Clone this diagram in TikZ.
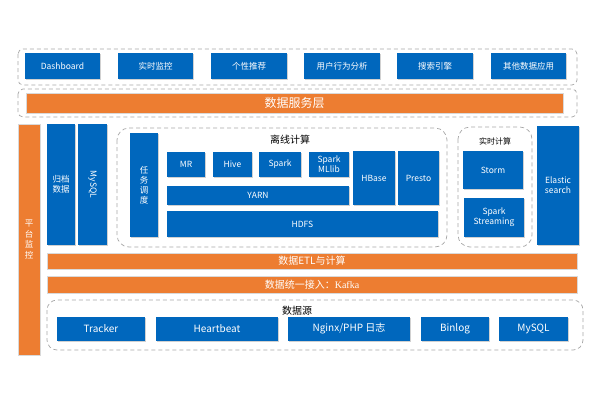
\documentclass[tikz,border=0pt]{standalone}
\usepackage{fontspec}
\setmainfont{Noto Sans CJK SC}
\newfontfamily\kfont{Liberation Serif}
\usetikzlibrary{shadows}
\definecolor{bblue}{HTML}{0067BD}
\definecolor{borange}{HTML}{ED7D31}
\begin{document}
\begin{tikzpicture}[x=1pt, y=-1pt,
    box/.style={fill=bblue, text=white, inner sep=0pt, align=center,
        font=\fontsize{8.5}{10}\selectfont,
        drop shadow={shadow xshift=1pt, shadow yshift=-1pt, fill=black!30, opacity=.6}},
    bar/.style={fill=borange, draw=black!15, line width=.8pt, text=white, inner sep=0pt,
        font=\fontsize{10}{12}\selectfont},
    grp/.style={draw=black!35, dash pattern=on 4pt off 3pt, line width=.7pt, rounded corners=#1},
    grp/.default=5pt,
    lbl/.style={font=\fontsize{10}{12}\selectfont}]
    \useasboundingbox (0,0) rectangle (600,400);

    % application layer
    \draw[grp] (18,49) rectangle (577,85);
    \node[box, minimum width=75pt, minimum height=26pt] (dash) at (62.5,66) {Dashboard};
    \node[box, minimum width=75pt, minimum height=26pt] (rtmon) at (155.5,66) {实时监控};
    \node[box, minimum width=76pt, minimum height=26pt] (recom) at (249,66) {个性推荐};
    \node[box, minimum width=76pt, minimum height=26pt] (behav) at (342,66) {用户行为分析};
    \node[box, minimum width=76pt, minimum height=26pt] (search) at (435,66) {搜索引擎};
    \node[box, minimum width=75pt, minimum height=26pt] (other) at (528.5,66) {其他数据应用};

    % service layer
    \draw[grp] (18,89) rectangle (577,117);
    \node[bar, minimum width=537pt, minimum height=20pt, font=\fontsize{12}{14}\selectfont] (service) at (294.5,103) {数据服务层};

    % left columns
    \node[bar, minimum width=22pt, minimum height=231pt, align=center, font=\fontsize{8.5}{10.5}\selectfont] (platmon) at (29,239.5) {平\\台\\监\\控};
    \node[box, minimum width=28pt, minimum height=121pt] (archive) at (61,184.5) {归档\\数据};
    \node[box, minimum width=29pt, minimum height=121pt] (mysqlv) at (92.5,184.5) {\rotatebox{-90}{MySQL}};

    % offline computing
    \draw[grp=12pt] (117,128) rectangle (447,247);
    \node[lbl] (offline) at (290,140) {离线计算};
    \node[box, minimum width=28pt, minimum height=104pt] (sched) at (144,185) {任\\务\\调\\度};
    \node[box, minimum width=38pt, minimum height=25pt] (mr) at (186,164.5) {MR};
    \node[box, minimum width=39pt, minimum height=25pt] (hive) at (232.5,164.5) {Hive};
    \node[box, minimum width=42pt, minimum height=25pt] (spark) at (280,164.5) {Spark};
    \node[box, minimum width=40pt, minimum height=25pt] (mllib) at (329,164.5) {Spark\\MLlib};
    \node[box, minimum width=42pt, minimum height=54pt] (hbase) at (374,178) {HBase};
    \node[box, minimum width=41pt, minimum height=54pt] (presto) at (418.5,178) {Presto};
    \node[box, minimum width=182pt, minimum height=19pt] (yarn) at (258,195.5) {YARN};
    \node[box, minimum width=271pt, minimum height=26pt] (hdfs) at (302.5,224) {HDFS};

    % realtime computing
    \draw[grp=12pt] (458,127) rectangle (532,247);
    \node[lbl, font=\fontsize{8}{10}\selectfont] (realtime) at (495,141) {实时计算};
    \node[box, minimum width=60pt, minimum height=38pt] (storm) at (493,170) {Storm};
    \node[box, minimum width=60pt, minimum height=39pt] (sstream) at (494,217.5) {Spark\\Streaming};
    \node[box, minimum width=42pt, minimum height=119pt] (es) at (558,185.5) {Elastic\\search};

    % etl and ingestion
    \node[bar, minimum width=530pt, minimum height=16pt] (etl) at (312,261) {数据ETL与计算};
    \node[bar, minimum width=530pt, minimum height=17pt] (kafka) at (312,284.5) {数据统一接入：{\kfont Kafka}};

    % data sources
    \draw[grp=10pt] (47,300) rectangle (583,350);
    \node[lbl] (source) at (297,311) {数据源};
    \node[box, minimum width=88pt, minimum height=24pt, font=\fontsize{10}{12}\selectfont] (tracker) at (101,329) {Tracker};
    \node[box, minimum width=122pt, minimum height=24pt, font=\fontsize{10}{12}\selectfont] (heart) at (217,329) {Heartbeat};
    \node[box, minimum width=122pt, minimum height=24pt, font=\fontsize{10}{12}\selectfont] (nginx) at (349,329) {Nginx/PHP 日志};
    \node[box, minimum width=68pt, minimum height=24pt, font=\fontsize{10}{12}\selectfont] (binlog) at (455,329) {Binlog};
    \node[box, minimum width=69pt, minimum height=24pt, font=\fontsize{10}{12}\selectfont] (mysqlh) at (533.5,329) {MySQL};
\end{tikzpicture}
\end{document}
